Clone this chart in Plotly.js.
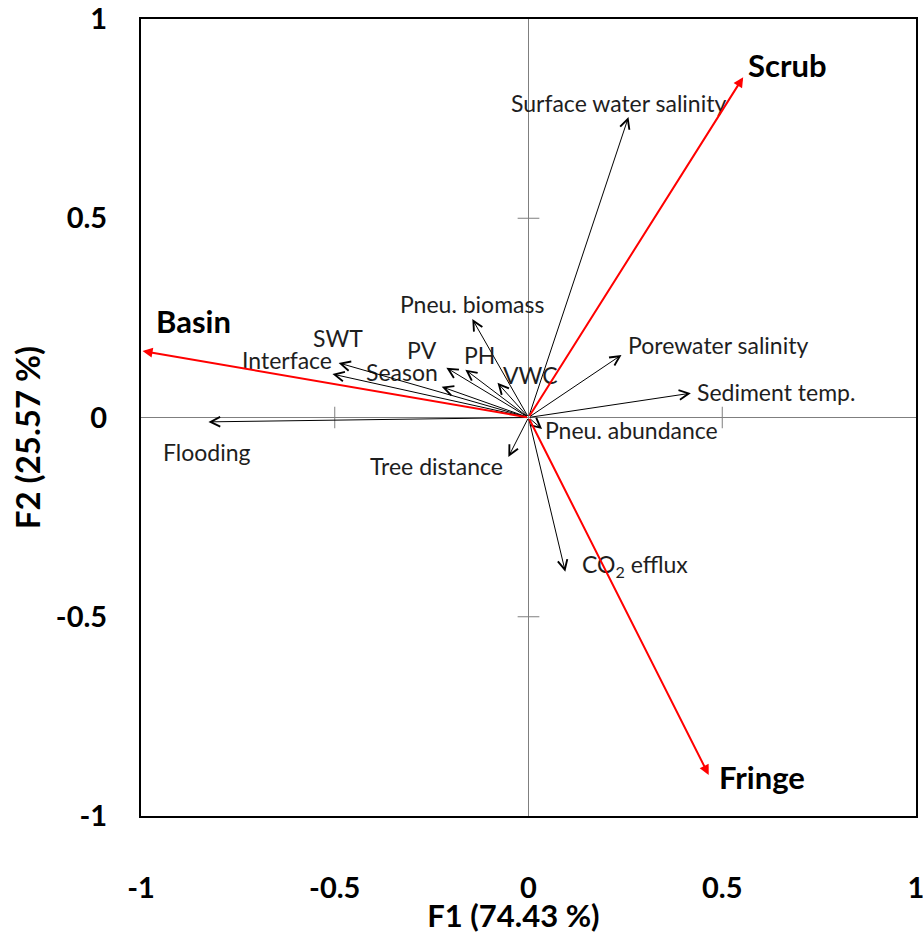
<!DOCTYPE html>
<html><head><meta charset="utf-8">
<script src="https://cdn.plot.ly/plotly-3.0.1.min.js"></script>
<style>html,body{margin:0;padding:0;background:#fff}#chart{width:923px;height:934px}</style>
</head><body><div id="chart"></div>
<script>
// ---- data ----
const variableNames = ['Surface water salinity', 'Porewater salinity', 'Sediment temp.', 'Pneu. abundance',
  'CO<sub>2</sub> efflux', 'Tree distance', 'Pneu. biomass', 'VWC', 'PH', 'PV', 'Season', 'SWT', 'Interface', 'Flooding'];
const variableF1 = [0.258, 0.240, 0.419, 0.035, 0.095, -0.052, -0.145, -0.080, -0.163, -0.212, -0.224, -0.490, -0.506, -0.826];
const variableF2 = [0.754, 0.157, 0.061, -0.029, -0.387, -0.099, 0.247, 0.087, 0.120, 0.125, 0.077, 0.137, 0.109, -0.011];
const siteNames = ['Scrub', 'Fringe', 'Basin'];
const siteF1 = [0.554, 0.465, -0.996];
const siteF2 = [0.854, -0.897, 0.167];
const tickValues = [-1, -0.5, 0, 0.5, 1];
const tickLabels = ['-1', '-0.5', '0', '0.5', '1'];
const crossTicks = [-0.5, 0.5];
const xTitle = 'F1 (74.43 %)';
const yTitle = 'F2 (25.57 %)';

// ---- label placement (pixel offsets from each arrow tip) ----
const variableLabelPlacement = [
  {xanchor: 'center', xshift: -10, yshift: 14},
  {xanchor: 'left', xshift: 5, yshift: 10},
  {xanchor: 'left', xshift: 5, yshift: 1},
  {xanchor: 'left', xshift: 2, yshift: -1},
  {xanchor: 'left', xshift: 16, yshift: 6},
  {xanchor: 'right', xshift: -4, yshift: -9},
  {xanchor: 'center', xshift: 0, yshift: 15},
  {xanchor: 'left', xshift: 4, yshift: 8},
  {xanchor: 'left', xshift: -2, yshift: 15},
  {xanchor: 'right', xshift: -8, yshift: 18},
  {xanchor: 'right', xshift: -3, yshift: 15},
  {xanchor: 'center', xshift: -1, yshift: 25},
  {xanchor: 'right', xshift: 1, yshift: 14},
  {xanchor: 'center', xshift: -1, yshift: -30}
];
const siteLabelPlacement = [
  {xanchor: 'left', xshift: 4, yshift: 12},
  {xanchor: 'left', xshift: 9, yshift: -2},
  {xanchor: 'left', xshift: 12, yshift: 30}
];

const FONT = 'Lato, "Open Sans", sans-serif';
const annotations = [];
const shapes = [];

variableNames.forEach((name, i) => {
  annotations.push({
    x: variableF1[i], y: variableF2[i], xref: 'x', yref: 'y',
    ax: 0, ay: 0, axref: 'x', ayref: 'y',
    text: '', showarrow: true, arrowhead: 5, arrowsize: 1.9, arrowwidth: 1,
    arrowcolor: '#000', standoff: 0, startstandoff: 0
  });
  const p = variableLabelPlacement[i];
  annotations.push({
    x: variableF1[i], y: variableF2[i], xref: 'x', yref: 'y',
    text: name, showarrow: false, xanchor: p.xanchor, yanchor: 'middle',
    xshift: p.xshift, yshift: p.yshift, borderpad: 0,
    font: {family: FONT, size: 23, color: '#1e1e1e'}
  });
});

siteNames.forEach((name, i) => {
  annotations.push({
    x: siteF1[i], y: siteF2[i], xref: 'x', yref: 'y',
    ax: 0, ay: 0, axref: 'x', ayref: 'y',
    text: '', showarrow: true, arrowhead: 2, arrowsize: 1, arrowwidth: 2,
    arrowcolor: '#ff0000', standoff: 0, startstandoff: 0
  });
  const p = siteLabelPlacement[i];
  annotations.push({
    x: siteF1[i], y: siteF2[i], xref: 'x', yref: 'y',
    text: '<b>' + name + '</b>', showarrow: false, xanchor: p.xanchor, yanchor: 'middle',
    xshift: p.xshift, yshift: p.yshift, borderpad: 0,
    font: {family: FONT, size: 31, color: '#000'}
  });
});

// cross ticks on the centre axes
crossTicks.forEach(v => {
  shapes.push({type: 'line', xref: 'x', yref: 'y', x0: v, x1: v, y0: -0.027, y1: 0.027,
    line: {color: '#7f7f7f', width: 1}});
  shapes.push({type: 'line', xref: 'x', yref: 'y', x0: -0.028, x1: 0.028, y0: v, y1: v,
    line: {color: '#7f7f7f', width: 1}});
});

const traces = [{
  type: 'scatter', mode: 'markers',
  x: variableF1.concat(siteF1), y: variableF2.concat(siteF2),
  text: variableNames.concat(siteNames),
  marker: {size: 6, opacity: 0}, hoverinfo: 'text+x+y', showlegend: false
}];

const axisCommon = {
  range: [-1, 1], tickvals: tickValues, ticktext: tickLabels,
  showgrid: false, zeroline: true, zerolinecolor: '#7f7f7f', zerolinewidth: 1,
  showline: true, mirror: true, linecolor: '#000', linewidth: 2,
  ticks: '', ticklabeloverflow: 'allow',
  tickfont: {family: FONT, size: 29, color: '#000', weight: 'bold'},
  fixedrange: true
};

const layout = {
  width: 923, height: 934,
  margin: {l: 141, r: 7, t: 19, b: 118},
  paper_bgcolor: '#fff', plot_bgcolor: '#fff',
  showlegend: false,
  xaxis: Object.assign({}, axisCommon, {
    ticklabelstandoff: 45,
    title: {text: '<b>' + xTitle + '\u00a0\u00a0\u00a0\u00a0</b>', font: {family: FONT, size: 31, color: '#000'}, standoff: 2}
  }),
  yaxis: Object.assign({}, axisCommon, {
    ticklabelstandoff: 26,
    title: {text: '<b>' + yTitle + '\u00a0\u00a0\u00a0\u00a0\u00a0</b>', font: {family: FONT, size: 33, color: '#000'}, standoff: 5}
  }),
  annotations: annotations,
  shapes: shapes
};

Plotly.newPlot('chart', traces, layout, {displayModeBar: false});
</script>
</body></html>
